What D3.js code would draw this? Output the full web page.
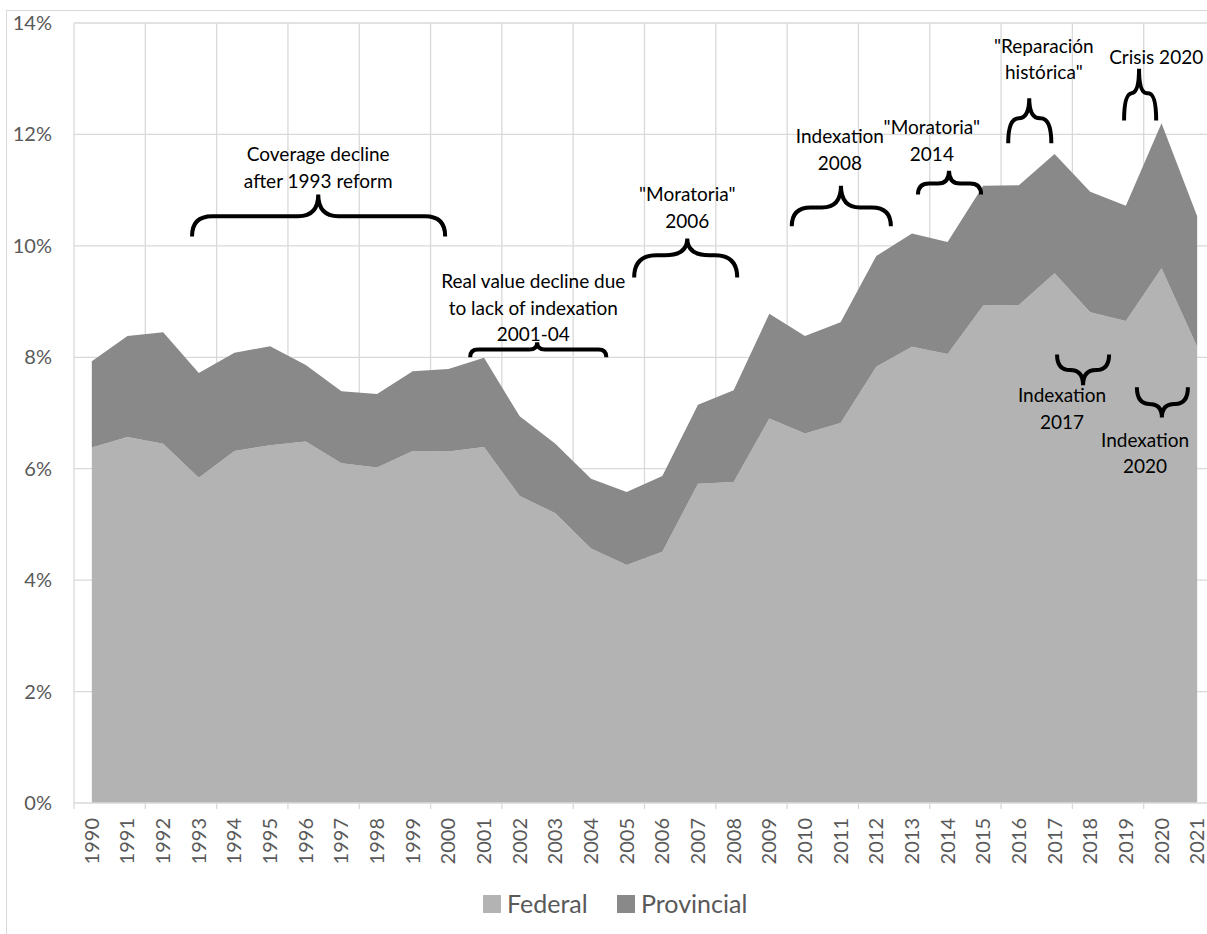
<!DOCTYPE html>
<html>
<head>
<meta charset="utf-8">
<script src="https://cdn.jsdelivr.net/npm/d3@7"></script>
<style>
  body { margin: 0; background: #fff; }
  svg { display: block; font-family: Lato, "Open Sans", sans-serif; }
</style>
</head>
<body>
<div id="chart"></div>
<script>
const width = 1207;
const height = 934;

// data, % of GDP
const years = d3.range(1990, 2022);
const federal = [6.38, 6.57, 6.45, 5.84, 6.32, 6.42, 6.49, 6.10, 6.02, 6.32, 6.31, 6.39,
  5.51, 5.20, 4.57, 4.27, 4.51, 5.73, 5.76, 6.90, 6.63, 6.82, 7.83, 8.19, 8.06, 8.93,
  8.94, 9.51, 8.81, 8.65, 9.60, 8.19];
const provincial = [1.55, 1.81, 2.00, 1.88, 1.76, 1.78, 1.37, 1.29, 1.32, 1.43, 1.48, 1.60,
  1.43, 1.25, 1.25, 1.31, 1.36, 1.42, 1.65, 1.88, 1.75, 1.81, 1.99, 2.03, 2.01, 2.15,
  2.15, 2.14, 2.16, 2.07, 2.60, 2.34];
const seriesNames = ["Federal", "Provincial"];
const seriesColors = ["#b3b3b3", "#898989"];
const yTicks = [0, 2, 4, 6, 8, 10, 12, 14];

// annotations (year / % positions)
const notes = [
  {lines: ["Coverage decline", "after 1993 reform"], tx: 1996.35, ty: 11.52, x1: 1992.81, xm: 1996.35, x2: 1999.91, yb: 10.17, yh: 10.53, yt: 10.92},
  {lines: ["Real value decline due", "to lack of indexation", "2001-04"], tx: 2002.38, ty: 9.24, x1: 2000.61, xm: 2002.49, x2: 2004.43, yb: 8.00, yh: 8.14, yt: 8.27},
  {lines: ["\"Moratoria\"", "2006"], tx: 2006.70, ty: 10.80, x1: 2005.21, xm: 2006.70, x2: 2008.10, yb: 9.43, yh: 9.83, yt: 10.13},
  {lines: ["Indexation", "2008"], tx: 2010.98, ty: 11.84, x1: 2009.63, xm: 2011.01, x2: 2012.41, yb: 10.35, yh: 10.69, yt: 11.08},
  {lines: ["\"Moratoria\"", "2014"], tx: 2013.56, ty: 12.00, x1: 2013.17, xm: 2014.04, x2: 2014.94, yb: 10.92, yh: 11.12, yt: 11.35},
  {lines: ["\"Reparación", "histórica\""], tx: 2016.70, ty: 13.47, x1: 2015.70, xm: 2016.29, x2: 2016.91, yb: 11.84, yh: 12.29, yt: 12.65},
  {lines: ["Crisis 2020"], tx: 2019.85, ty: 13.27, x1: 2018.95, xm: 2019.37, x2: 2019.85, yb: 12.25, yh: 12.74, yt: 13.18},
  {lines: ["Indexation", "2017"], tx: 2017.21, ty: 7.19, x1: 2017.07, xm: 2017.80, x2: 2018.53, yb: 8.05, yh: 7.77, yt: 7.50},
  {lines: ["Indexation", "2020"], tx: 2019.54, ty: 6.39, x1: 2019.31, xm: 2020.01, x2: 2020.74, yb: 7.46, yh: 7.16, yt: 6.92}
];

const plot = {left: 74, right: 1215, top: 23, bottom: 803};

const svg = d3.select("#chart").append("svg")
    .attr("width", width)
    .attr("height", height);

// chart border (right side is cut off in the original)
svg.append("rect")
    .attr("x", 6.5).attr("y", 10.5)
    .attr("width", 1300).attr("height", 1000)
    .attr("fill", "none")
    .attr("stroke", "#d9d9d9");

const x = d3.scalePoint()
    .domain(years)
    .range([plot.left, plot.right])
    .padding(0.5);
const xLin = d3.scaleLinear()
    .domain([years[0], years[years.length - 1]])
    .range([x(years[0]), x(years[years.length - 1])]);
const y = d3.scaleLinear()
    .domain([0, 14])
    .range([plot.bottom, plot.top]);

// gridlines
const boundaries = d3.range(0, years.length + 1, 2).map(i => plot.left + i * x.step());
svg.append("g").selectAll("line.h")
    .data(yTicks.slice(1))
    .join("line")
    .attr("x1", plot.left).attr("x2", plot.right)
    .attr("y1", d => y(d)).attr("y2", d => y(d))
    .attr("stroke", "#d9d9d9").attr("stroke-width", 1.3);
svg.append("g").selectAll("line.v")
    .data(boundaries)
    .join("line")
    .attr("x1", d => d).attr("x2", d => d)
    .attr("y1", plot.top).attr("y2", plot.bottom + 6)
    .attr("stroke", "#d9d9d9").attr("stroke-width", 1.3);

// stacked areas
const table = years.map((yr, i) => ({year: yr, Federal: federal[i], Provincial: provincial[i]}));
const stack = d3.stack().keys(seriesNames)(table);
const area = d3.area()
    .x(d => x(d.data.year))
    .y0(d => y(d[0]))
    .y1(d => y(d[1]));
svg.append("g").selectAll("path")
    .data(stack)
    .join("path")
    .attr("fill", (d, i) => seriesColors[i])
    .attr("d", area);

// x axis line
svg.append("line")
    .attr("x1", plot.left).attr("x2", plot.right)
    .attr("y1", plot.bottom).attr("y2", plot.bottom)
    .attr("stroke", "#d9d9d9").attr("stroke-width", 1.3);

// y labels
svg.append("g").selectAll("text")
    .data(yTicks)
    .join("text")
    .attr("x", 52)
    .attr("y", d => y(d))
    .attr("dy", "0.35em")
    .attr("text-anchor", "end")
    .attr("font-size", 20)
    .attr("fill", "#595959")
    .text(d => d + "%");

// x labels
svg.append("g").selectAll("text")
    .data(years)
    .join("text")
    .attr("transform", d => `translate(${x(d)},${plot.bottom + 15}) rotate(-90)`)
    .attr("dy", "0.35em")
    .attr("text-anchor", "end")
    .attr("font-size", 20)
    .attr("fill", "#595959")
    .text(d => d);

// braces + texts
function brace(n) {
  const x1 = xLin(n.x1), x2 = xLin(n.x2), xm = xLin(n.xm);
  const yb = y(n.yb), yh = y(n.yh), yt = y(n.yt);
  const r = Math.min(Math.abs(yb - yh), (x2 - x1) / 4);
  return `M${x1},${yb} Q${x1},${yh} ${x1 + r},${yh} L${xm - r},${yh} Q${xm},${yh} ${xm},${yt}` +
    ` Q${xm},${yh} ${xm + r},${yh} L${x2 - r},${yh} Q${x2},${yh} ${x2},${yb}`;
}
const ann = svg.append("g");
ann.selectAll("path")
    .data(notes)
    .join("path")
    .attr("d", brace)
    .attr("fill", "none")
    .attr("stroke", "#000")
    .attr("stroke-width", 4);
notes.forEach(n => {
  const t = ann.append("text")
      .attr("x", xLin(n.tx))
      .attr("y", y(n.ty))
      .attr("text-anchor", "middle")
      .attr("font-size", 19)
      .attr("fill", "#000");
  n.lines.forEach((line, i) => {
    t.append("tspan")
        .attr("x", xLin(n.tx))
        .attr("dy", i === 0 ? 0 : 26.5)
        .text(line);
  });
});

// legend
const legend = svg.append("g").attr("transform", "translate(483,904)");
const legendX = [0, 134];
seriesNames.forEach((name, i) => {
  legend.append("rect")
      .attr("x", legendX[i]).attr("y", -9)
      .attr("width", 18).attr("height", 18)
      .attr("fill", seriesColors[i]);
  legend.append("text")
      .attr("x", legendX[i] + 24)
      .attr("y", 0)
      .attr("dy", "0.35em")
      .attr("font-size", 25)
      .attr("fill", "#595959")
      .text(name);
});
</script>
</body>
</html>
